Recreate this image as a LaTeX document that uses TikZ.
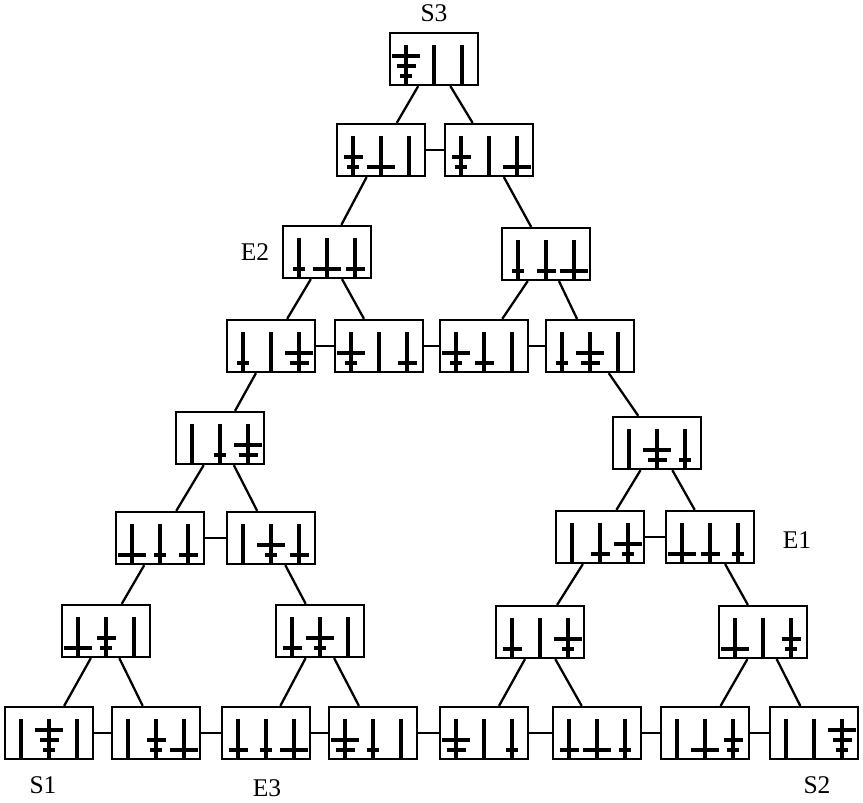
\documentclass[tikz,border=0pt]{standalone}
\usepackage{fontspec}
\setmainfont{Liberation Serif}

% one state box: name, position, pegs of large, medium and small disc
\newcommand{\hanoibox}[5]{%
  \node[tbox] (#1) at (#2) {};
  \begin{scope}[shift={(#1.center)}]
    \foreach \p in {-28,0,28} \draw[peg] (\p,-14) -- (\p,26);
    \pgfmathtruncatemacro{\mlev}{(#4==#3)}
    \pgfmathtruncatemacro{\slev}{(#5==#3)+(#5==#4)}
    \draw[disc] ({28*(#3-2)-6},17) -- ++(12,0);
    \draw[disc] ({28*(#4-2)-9.5},{17-10*\mlev}) -- ++(19,0);
    \draw[disc] ({28*(#5-2)-14},{17-10*\slev}) -- ++(28,0);
  \end{scope}}

\begin{document}
\begin{tikzpicture}[x=0.02cm, y=-0.02cm,
  tbox/.style={draw, line width=1.3pt, minimum width=1.76cm, minimum height=1.04cm, inner sep=0pt},
  peg/.style={line width=2pt},
  disc/.style={line width=2.4pt},
  edge/.style={line width=1.3pt},
  lbl/.style={font=\fontsize{14.5}{16}\selectfont}]

\useasboundingbox (0,0) rectangle (863,803);

% large disc on peg 1
\hanoibox{t111}{434,59}{1}{1}{1}
\hanoibox{t112}{381,150}{1}{1}{2}
\hanoibox{t113}{489,150}{1}{1}{3}
\hanoibox{t132}{327,252}{1}{3}{2}
\hanoibox{t123}{546,254}{1}{2}{3}
\hanoibox{t133}{271,346}{1}{3}{3}
\hanoibox{t131}{379,346}{1}{3}{1}
\hanoibox{t121}{484,346}{1}{2}{1}
\hanoibox{t122}{590,346}{1}{2}{2}

% large disc on peg 2
\hanoibox{t233}{220,438}{2}{3}{3}
\hanoibox{t231}{160,538}{2}{3}{1}
\hanoibox{t232}{271,538}{2}{3}{2}
\hanoibox{t221}{106,631}{2}{2}{1}
\hanoibox{t212}{320,631}{2}{1}{2}
\hanoibox{t222}{49,733}{2}{2}{2}
\hanoibox{t223}{156,733}{2}{2}{3}
\hanoibox{t213}{266,733}{2}{1}{3}
\hanoibox{t211}{373,733}{2}{1}{1}

% large disc on peg 3
\hanoibox{t322}{657,443}{3}{2}{2}
\hanoibox{t323}{600,537}{3}{2}{3}
\hanoibox{t321}{710,537}{3}{2}{1}
\hanoibox{t313}{540,632}{3}{1}{3}
\hanoibox{t331}{763,632}{3}{3}{1}
\hanoibox{t311}{484,733}{3}{1}{1}
\hanoibox{t312}{597,733}{3}{1}{2}
\hanoibox{t332}{705,733}{3}{3}{2}
\hanoibox{t333}{814,733}{3}{3}{3}

% moves
\draw[edge] (t111) -- (t112);
\draw[edge] (t111) -- (t113);
\draw[edge] (t112) -- (t113);
\draw[edge] (t112) -- (t132);
\draw[edge] (t113) -- (t123);
\draw[edge] (t132) -- (t133);
\draw[edge] (t132) -- (t131);
\draw[edge] (t133) -- (t131);
\draw[edge] (t131) -- (t121);
\draw[edge] (t123) -- (t121);
\draw[edge] (t123) -- (t122);
\draw[edge] (t121) -- (t122);
\draw[edge] (t133) -- (t233);
\draw[edge] (t122) -- (t322);
\draw[edge] (t233) -- (t231);
\draw[edge] (t233) -- (t232);
\draw[edge] (t231) -- (t232);
\draw[edge] (t231) -- (t221);
\draw[edge] (t232) -- (t212);
\draw[edge] (t221) -- (t222);
\draw[edge] (t221) -- (t223);
\draw[edge] (t222) -- (t223);
\draw[edge] (t223) -- (t213);
\draw[edge] (t212) -- (t213);
\draw[edge] (t212) -- (t211);
\draw[edge] (t213) -- (t211);
\draw[edge] (t211) -- (t311);
\draw[edge] (t322) -- (t323);
\draw[edge] (t322) -- (t321);
\draw[edge] (t323) -- (t321);
\draw[edge] (t323) -- (t313);
\draw[edge] (t321) -- (t331);
\draw[edge] (t313) -- (t311);
\draw[edge] (t313) -- (t312);
\draw[edge] (t311) -- (t312);
\draw[edge] (t312) -- (t332);
\draw[edge] (t331) -- (t332);
\draw[edge] (t331) -- (t333);
\draw[edge] (t332) -- (t333);

% labels
\node[lbl] (s3) at (434,13) {S3};
\node[lbl] (e2) at (255,252) {E2};
\node[lbl] (e1) at (797,540) {E1};
\node[lbl] (s1) at (43,785) {S1};
\node[lbl] (e3) at (267,788) {E3};
\node[lbl] (s2) at (817,785) {S2};

\end{tikzpicture}
\end{document}
